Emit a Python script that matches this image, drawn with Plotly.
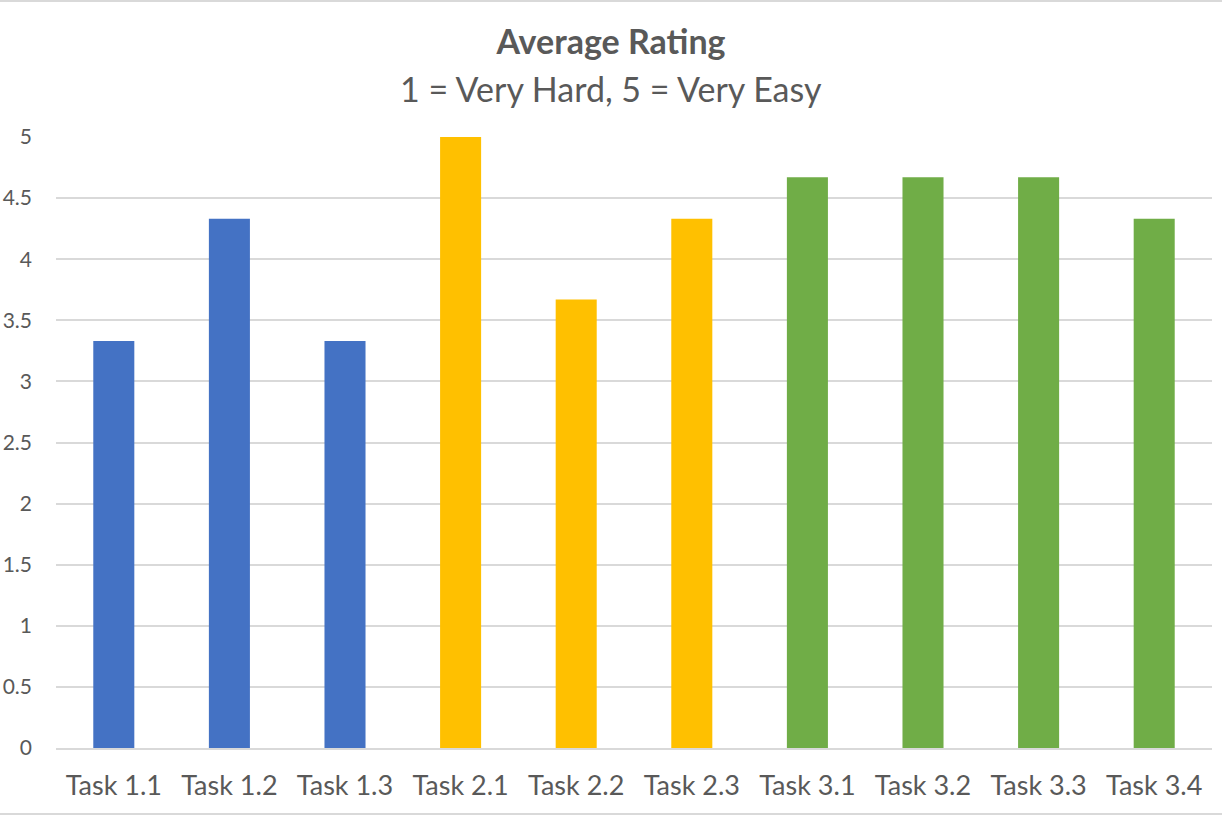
import plotly.graph_objects as go

categories = ["Task 1.1", "Task 1.2", "Task 1.3", "Task 2.1", "Task 2.2",
              "Task 2.3", "Task 3.1", "Task 3.2", "Task 3.3", "Task 3.4"]
ratings = [3.33, 4.33, 3.33, 5.0, 3.67, 4.33, 4.67, 4.67, 4.67, 4.33]
bar_colors = ["#4472C4", "#4472C4", "#4472C4",
              "#FFC000", "#FFC000", "#FFC000",
              "#70AD47", "#70AD47", "#70AD47", "#70AD47"]
y_ticks = [0, 0.5, 1, 1.5, 2, 2.5, 3, 3.5, 4, 4.5, 5]
title_text = "Average Rating"
subtitle_text = "1 = Very Hard, 5 = Very Easy"

FONT = "Lato"
TXT = "#595959"
GRID = "#D9D9D9"

fig = go.Figure()
fig.add_trace(go.Bar(x=categories, y=ratings, marker=dict(color=bar_colors, line=dict(width=0)),
                     hoverinfo="x+y"))

W, H = 1222, 817
ml, mr, mt, mb = 56, 10, 137, 69
pw = W - ml - mr
ph = H - mt - mb

fig.update_layout(
    width=W, height=H,
    margin=dict(l=ml, r=mr, t=mt, b=mb, pad=0),
    paper_bgcolor="white", plot_bgcolor="white",
    bargap=0.645,
    showlegend=False,
    font=dict(family=FONT, color=TXT),
    title=dict(text="<b>" + title_text + "</b>", x=0.5, xanchor="center",
               xref="container", yref="container", y=1 - 42 / H, yanchor="middle",
               font=dict(family=FONT, size=34, color=TXT)),
    annotations=[dict(text=subtitle_text, xref="paper", yref="paper",
                      x=(W / 2 - ml) / pw, y=1 + (mt - 88) / ph,
                      xanchor="center", yanchor="middle",
                      showarrow=False, font=dict(family=FONT, size=34, color=TXT))],
    xaxis=dict(showgrid=False, showline=True, linecolor=GRID, linewidth=2,
               tickfont=dict(family=FONT, size=27, color=TXT), automargin=False,
               ticks="", ticklabelstandoff=13, fixedrange=True),
    yaxis=dict(range=[0, 5], tickvals=y_ticks, showgrid=True, gridcolor=GRID, gridwidth=2,
               zeroline=False, showline=False, automargin=False,
               tickfont=dict(family=FONT, size=21, color=TXT),
               ticks="", ticklabelstandoff=23, fixedrange=True),
    shapes=[
        dict(type="line", xref="paper", yref="paper", x0=-0.1, x1=1.1,
             y0=1 + (mt - 1) / ph, y1=1 + (mt - 1) / ph, line=dict(color=GRID, width=2)),
        dict(type="line", xref="paper", yref="paper", x0=-0.1, x1=1.1,
             y0=-(mb - 3) / ph, y1=-(mb - 3) / ph, line=dict(color=GRID, width=2)),
    ],
)

fig.write_html("out.html", config={"displayModeBar": False},
               post_script="document.body.style.margin='0';document.body.style.overflow='hidden';")
